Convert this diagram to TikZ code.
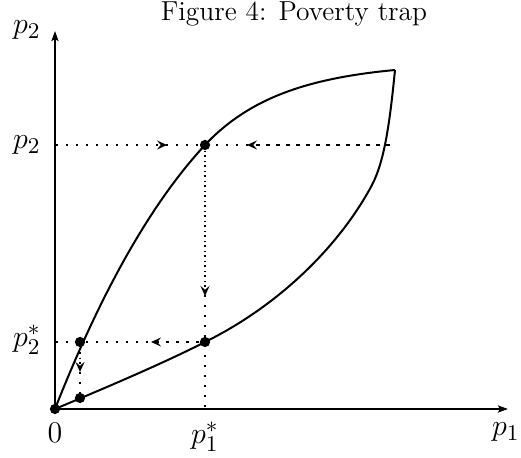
\documentclass[tikz,border=0pt]{standalone}
\usetikzlibrary{arrows.meta}
\begin{document}
\begin{tikzpicture}[x=0.4pt,y=-0.4pt,
  axis/.style={line width=0.8pt,-{Stealth[length=4pt,width=2.8pt,inset=0.8pt]}},
  curve/.style={line width=0.8pt, line join=round},
  guide/.style={line width=0.65pt, dash pattern=on 0.65pt off 3.35pt},
  flow/.style={guide, -{Stealth[length=4pt,width=3.6pt,inset=1.5pt]}},
  dot/.style={circle, fill=black, inner sep=0pt, minimum size=4.1pt},
  lab/.style={font=\fontsize{12.5}{14}\selectfont, inner sep=0pt}]
\useasboundingbox (0,0) rectangle (521,458);
\node[font=\fontsize{11}{13}\selectfont, inner sep=0pt] (title) at (294,14) {Figure 4: Poverty trap};
\coordinate (O) at (55,409);
\coordinate (ytop) at (55,31);
\coordinate (xend) at (508,409);
\coordinate (Y2) at (56,145);
\coordinate (Ys) at (56,342);
\coordinate (R) at (390,145);
\coordinate (X1) at (205,409);
\coordinate (T) at (395,70);
% curves
\draw[curve] (O) .. controls (90,320) and (140,215) .. (205,145)
                 .. controls (250,97) and (310,78) .. (T);
\draw[curve] (O) .. controls (100,390) and (160,365) .. (205,342)
                 .. controls (280,305) and (340,245) .. (372,185)
                 .. controls (385,160) and (390,120) .. (T);
% dotted guides
\draw[guide] (Y2) -- (R);
\draw[guide] (Ys) -- (205,342);
\draw[guide] (205,145) -- (X1);
\draw[guide] (80,342) -- (80,398);
% points
\node[dot] (A) at (205,145) {};
\node[dot] (B) at (205,342) {};
\node[dot] (C) at (80,342) {};
\node[dot] (D) at (80,398) {};
\node[dot] (Od) at (O) {};
% arrows
\coordinate (a1) at (167,145);
\coordinate (a2) at (247,145);
\coordinate (a3) at (205,296);
\coordinate (a4) at (151,342);
\coordinate (a5) at (80,372);
\draw[flow] (Y2) -- (a1);
\draw[flow] (R) -- (a2);
\draw[flow] (A) -- (a3);
\draw[flow] (B) -- (a4);
\draw[flow] (C) -- (a5);
% axes
\draw[axis] (O) -- (ytop);
\draw[axis] (O) -- (xend);
% labels
\node[lab] (lp2top) at (27,30) {$p_2$};
\node[lab] (lp2) at (27,145) {$p_2$};
\node[lab] (lp2s) at (27,340) {$p_2^*$};
\node[lab] (l0) at (55,433) {$0$};
\node[lab] (lp1s) at (205,437) {$p_1^*$};
\node[lab] (lp1) at (506,432) {$p_1$};
\end{tikzpicture}
\end{document}
